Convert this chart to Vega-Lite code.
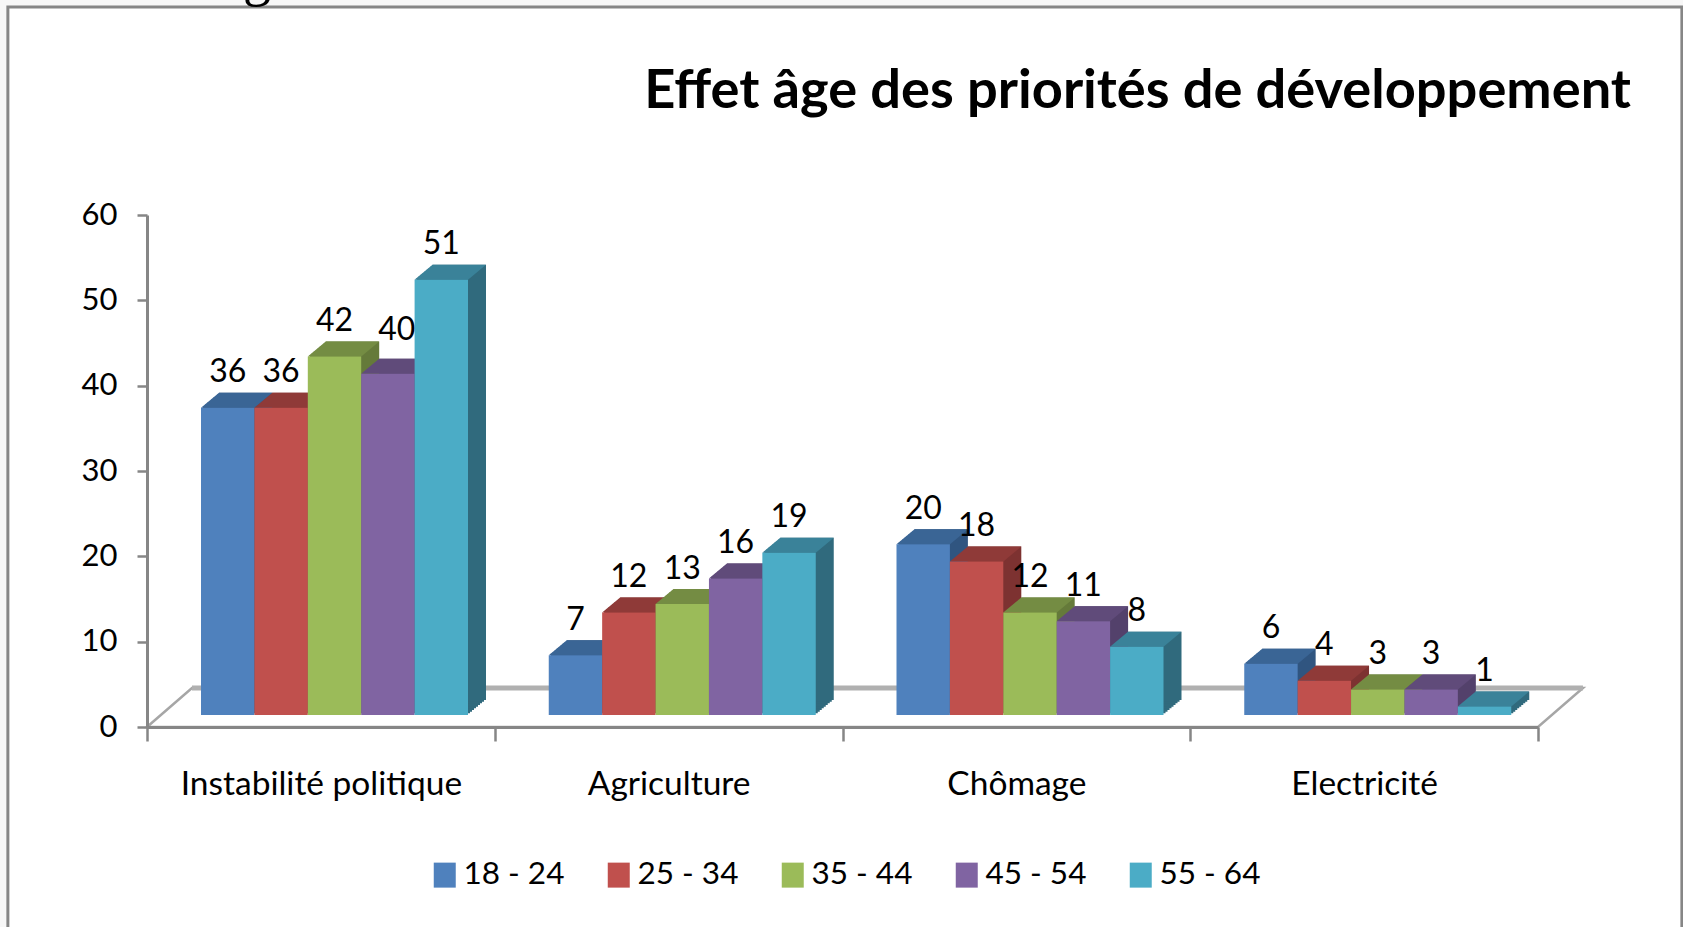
{
"$schema":"https://vega.github.io/schema/vega-lite/v6.json",
"width":1391,"height":512,"autosize":"none",
"padding":{"left":147,"top":215,"right":145,"bottom":200},
"background":"#f7f7f7",
"title":{"text":"Effet âge des priorités de développement","anchor":"end","frame":"group","dx":93,"dy":169,"offset":0,"font":"Lato","fontWeight":"bold","fontSize":54.2,"color":"#000000"},
"config":{"view":{"stroke":null},"text":{"font":"Lato"}},
"data":{"values":[
{"categorie":"Instabilité politique","age":"18 - 24","valeur":36},
{"categorie":"Instabilité politique","age":"25 - 34","valeur":36},
{"categorie":"Instabilité politique","age":"35 - 44","valeur":42},
{"categorie":"Instabilité politique","age":"45 - 54","valeur":40},
{"categorie":"Instabilité politique","age":"55 - 64","valeur":51},
{"categorie":"Agriculture","age":"18 - 24","valeur":7},
{"categorie":"Agriculture","age":"25 - 34","valeur":12},
{"categorie":"Agriculture","age":"35 - 44","valeur":13},
{"categorie":"Agriculture","age":"45 - 54","valeur":16},
{"categorie":"Agriculture","age":"55 - 64","valeur":19},
{"categorie":"Chômage","age":"18 - 24","valeur":20},
{"categorie":"Chômage","age":"25 - 34","valeur":18},
{"categorie":"Chômage","age":"35 - 44","valeur":12},
{"categorie":"Chômage","age":"45 - 54","valeur":11},
{"categorie":"Chômage","age":"55 - 64","valeur":8},
{"categorie":"Electricité","age":"18 - 24","valeur":6},
{"categorie":"Electricité","age":"25 - 34","valeur":4},
{"categorie":"Electricité","age":"35 - 44","valeur":3},
{"categorie":"Electricité","age":"45 - 54","valeur":3},
{"categorie":"Electricité","age":"55 - 64","valeur":1}
]},
"encoding":{
"x":{"field":"categorie","type":"nominal","sort":null,
"scale":{"domain":["Instabilité politique","Agriculture","Chômage","Electricité"],"paddingInner":0,"paddingOuter":0},
"axis":{"title":null,"labelAngle":0,"labelLimit":500,"tickBand":"extent","tickSize":14,"tickWidth":2.5,"tickColor":"#868686","domainColor":"#868686","domainWidth":3,"labelFont":"Lato","labelFontSize":33.5,"labelColor":"#000000","labelPadding":27,"grid":false,"zindex":1}},
"y":{"field":"valeur","type":"quantitative","stack":null,
"scale":{"domain":[0,60],"nice":false,"zero":true},
"axis":{"title":null,"values":[0,10,20,30,40,50,60],"tickSize":10,"tickWidth":2.5,"tickColor":"#868686","domainColor":"#868686","domainWidth":3,"labelFont":"Lato","labelFontSize":31,"labelColor":"#000000","labelPadding":20,"grid":false,"zindex":1}}
},
"resolve":{"scale":{"color":"independent","xOffset":"independent"}},
"layer":[
{"data":{"values":[{"categorie":"Instabilité politique","valeur":0}]},
"mark":{"type":"point","shape":"M-313,-720 L1361,-720 L1361,203 L-313,203 Z","size":4,"filled":true,"fill":"#ffffff","stroke":"#868686","strokeWidth":3,"opacity":1}},
{"data":{"values":[{"categorie":"Instabilité politique","valeur":0}]},
"mark":{"type":"point","shape":"M-173.9,0 L-128.9,-39 L1262.1,-39 L1217.1,0 Z","size":4,"filled":true,"fill":"#ffffff","stroke":"#a6a6a6","strokeWidth":2.5,"opacity":1}},
{"data":{"values":[{"categorie":"Instabilité politique","valeur":0}]},
"mark":{"type":"point","shape":"M-128.9,-39 L1262.1,-39","size":4,"filled":false,"stroke":"#b0b0b0","strokeWidth":5,"opacity":1}},
{"data":{"values":[{"categorie":"Instabilité politique","valeur":60,"texte":"g"}]},
"mark":{"type":"text","font":"Liberation Serif","fontSize":56,"color":"#000000","baseline":"alphabetic","xOffset":-64,"yOffset":-220},
"encoding":{"text":{"field":"texte"}}},
{"mark":{"type":"bar","yOffset":-13.7,"y2Offset":-13.7},"encoding":{"y2":{"datum":0},"xOffset":{"field":"age","type":"nominal","scale":{"range":[56,323],"paddingInner":0,"paddingOuter":0}},"color":{"field":"age","legend":null,"scale":{"range":["#305580","#7D3231","#657A3A","#53416B","#306A7D"]}}}},
{"mark":{"type":"bar","yOffset":-15.3,"y2Offset":-15.3},"encoding":{"y2":{"datum":0},"xOffset":{"field":"age","type":"nominal","scale":{"range":[58,325],"paddingInner":0,"paddingOuter":0}},"color":{"field":"age","legend":null,"scale":{"range":["#305580","#7D3231","#657A3A","#53416B","#306A7D"]}}}},
{"mark":{"type":"bar","yOffset":-17,"y2Offset":-17},"encoding":{"y2":{"datum":0},"xOffset":{"field":"age","type":"nominal","scale":{"range":[60,327],"paddingInner":0,"paddingOuter":0}},"color":{"field":"age","legend":null,"scale":{"range":["#305580","#7D3231","#657A3A","#53416B","#306A7D"]}}}},
{"mark":{"type":"bar","yOffset":-18.7,"y2Offset":-18.7},"encoding":{"y2":{"datum":0},"xOffset":{"field":"age","type":"nominal","scale":{"range":[62,329],"paddingInner":0,"paddingOuter":0}},"color":{"field":"age","legend":null,"scale":{"range":["#305580","#7D3231","#657A3A","#53416B","#306A7D"]}}}},
{"mark":{"type":"bar","yOffset":-20.3,"y2Offset":-20.3},"encoding":{"y2":{"datum":0},"xOffset":{"field":"age","type":"nominal","scale":{"range":[64,331],"paddingInner":0,"paddingOuter":0}},"color":{"field":"age","legend":null,"scale":{"range":["#305580","#7D3231","#657A3A","#53416B","#306A7D"]}}}},
{"mark":{"type":"bar","yOffset":-22,"y2Offset":-22},"encoding":{"y2":{"datum":0},"xOffset":{"field":"age","type":"nominal","scale":{"range":[66,333],"paddingInner":0,"paddingOuter":0}},"color":{"field":"age","legend":null,"scale":{"range":["#305580","#7D3231","#657A3A","#53416B","#306A7D"]}}}},
{"mark":{"type":"bar","yOffset":-23.7,"y2Offset":-23.7},"encoding":{"y2":{"datum":0},"xOffset":{"field":"age","type":"nominal","scale":{"range":[68,335],"paddingInner":0,"paddingOuter":0}},"color":{"field":"age","legend":null,"scale":{"range":["#305580","#7D3231","#657A3A","#53416B","#306A7D"]}}}},
{"mark":{"type":"bar","yOffset":-25.3,"y2Offset":-25.3},"encoding":{"y2":{"datum":0},"xOffset":{"field":"age","type":"nominal","scale":{"range":[70,337],"paddingInner":0,"paddingOuter":0}},"color":{"field":"age","legend":null,"scale":{"range":["#305580","#7D3231","#657A3A","#53416B","#306A7D"]}}}},
{"mark":{"type":"bar","yOffset":-27,"y2Offset":-27},"encoding":{"y2":{"datum":0},"xOffset":{"field":"age","type":"nominal","scale":{"range":[72,339],"paddingInner":0,"paddingOuter":0}},"color":{"field":"age","legend":null,"scale":{"range":["#305580","#7D3231","#657A3A","#53416B","#306A7D"]}}}},
{"mark":{"type":"point","shape":"M-26.75,0 L-8.75,-15 L44.75,-15 L26.75,0 Z","size":4,"filled":true,"opacity":1,"yOffset":-12},"encoding":{"xOffset":{"field":"age","type":"nominal","scale":{"range":[80.75,294.25],"padding":0}},"color":{"field":"age","legend":null,"scale":{"range":["#3A6595","#8F3A38","#748C43","#604B7A","#3A8299"]}}}},
{"mark":{"type":"bar","yOffset":-12,"y2Offset":-12},"encoding":{"y2":{"datum":0},"xOffset":{"field":"age","type":"nominal","scale":{"range":[54,321],"paddingInner":0,"paddingOuter":0}},"color":{"field":"age","scale":{"range":["#4F81BD","#C0504D","#9BBB59","#8064A2","#4BACC6"]},
"legend":{"title":null,"orient":"none","legendX":282,"legendY":644,"direction":"horizontal","columns":5,"columnPadding":38,"padding":0,"symbolType":"M-2.2,-2.5 L2.2,-2.5 L2.2,2.5 L-2.2,2.5 Z","symbolSize":100,"symbolStrokeWidth":0,"symbolOpacity":1,"labelFont":"Lato","labelFontSize":31.5,"labelColor":"#000000","labelOffset":3,"labelBaseline":"middle"}}}},
{"transform":[{"filter":"datum.valeur != 40"}],"mark":{"type":"text","fontSize":32,"color":"#000000","baseline":"middle","yOffset":-47.5},"encoding":{"xOffset":{"field":"age","type":"nominal","scale":{"range":[80.75,294.25],"padding":0}},"text":{"field":"valeur","type":"quantitative"}}},
{"transform":[{"filter":"datum.valeur == 40"}],"mark":{"type":"text","fontSize":32,"color":"#000000","baseline":"middle","yOffset":-56},"encoding":{"xOffset":{"field":"age","type":"nominal","scale":{"domain":["18 - 24","25 - 34","35 - 44","45 - 54","55 - 64"],"range":[89.75,303.25],"padding":0}},"text":{"field":"valeur","type":"quantitative"}}}
]
}
